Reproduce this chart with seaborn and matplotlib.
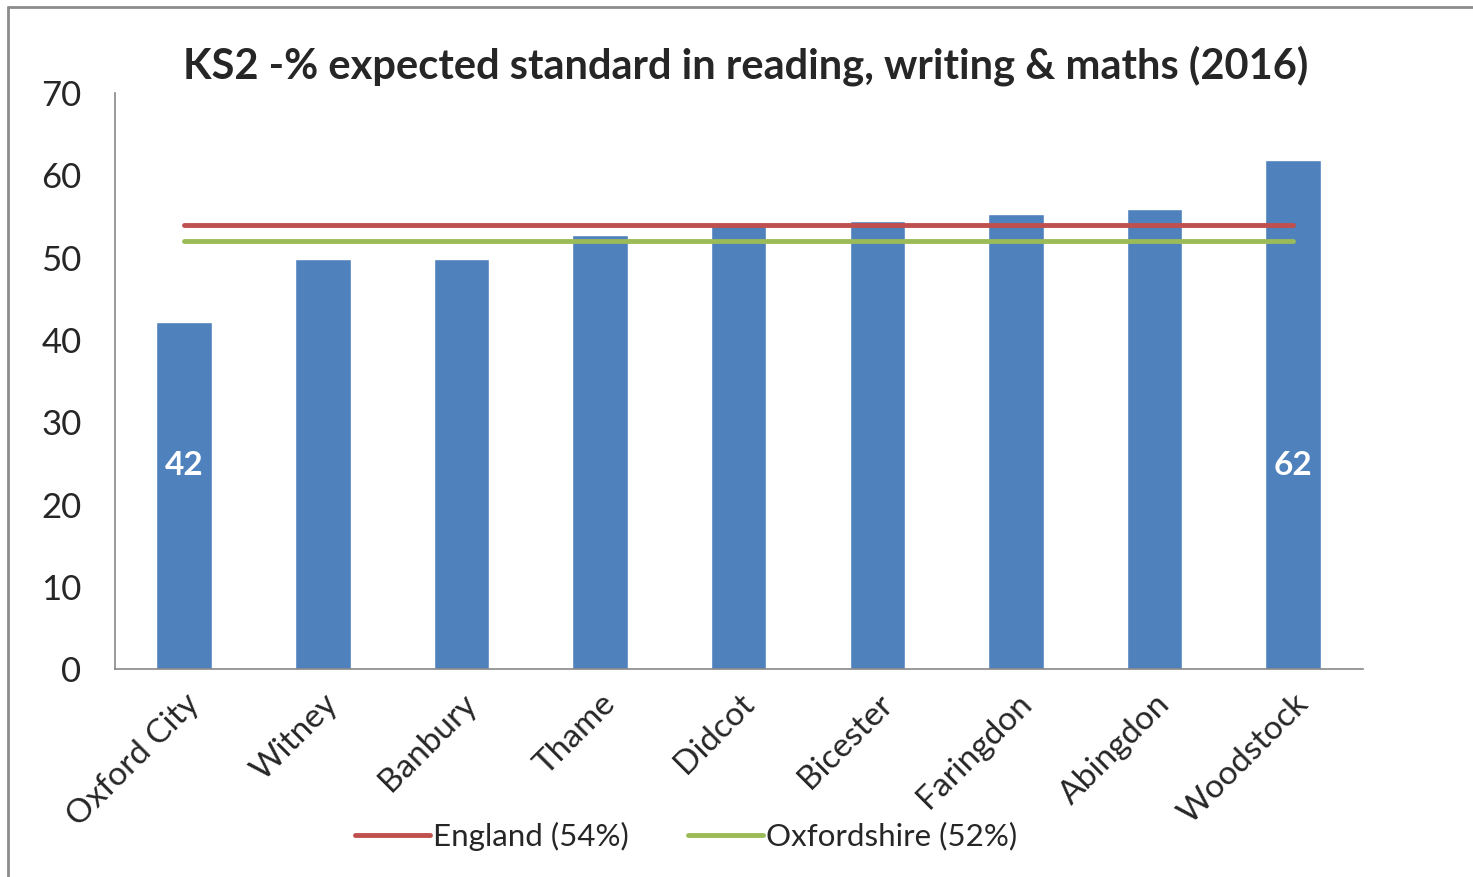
import numpy as np
import pandas as pd
import seaborn as sns
import matplotlib.pyplot as plt
from matplotlib.lines import Line2D

# data
towns = ["Oxford City", "Witney", "Banbury", "Thame", "Didcot",
         "Bicester", "Faringdon", "Abingdon", "Woodstock"]
pct_expected = [42.2, 49.8, 49.8, 52.8, 53.9, 54.4, 55.3, 55.9, 61.9]
england_pct = 54
oxon_pct = 52
bar_labels = {"Oxford City": "42", "Woodstock": "62"}

df = pd.DataFrame({"town": towns, "pct": pct_expected})

sns.set_style("white")
plt.rcParams["font.family"] = ["Lato", "DejaVu Sans"]

fig = plt.figure(figsize=(14.73, 8.77), dpi=100)
ax = fig.add_axes([0.078, 0.237, 0.847, 0.657])

sns.barplot(data=df, x="town", y="pct", color="#4F81BD", saturation=1,
            width=0.4, ax=ax)

n = len(towns)
ax.plot([0, n - 1], [england_pct, england_pct], color="#C0504D", lw=3.5,
        label="England (54%)")
ax.plot([0, n - 1], [oxon_pct, oxon_pct], color="#9BBB59", lw=3.5,
        label="Oxfordshire (52%)")

# white value labels inside first and last bar
for i, t in enumerate(towns):
    if t in bar_labels:
        ax.text(i, 24.8, bar_labels[t], color="white", fontsize=24,
                fontweight="bold", ha="center", va="center")

ax.set_xlim(-0.5, n - 0.5)
ax.set_ylim(0, 70)
ax.set_yticks(range(0, 71, 10))
ax.set_xlabel("")
ax.set_ylabel("")

# category ticks sit between the bars
ax.set_xticks(np.arange(-0.5, n, 1), minor=True)
ax.tick_params(axis="x", which="major", length=0, pad=14)
ax.tick_params(axis="x", which="minor", length=10, width=1.2, color="#878787",
               direction="out")
ax.tick_params(axis="y", length=10, width=1.2, color="#878787",
               direction="out", labelsize=25, pad=14)
ax.set_xticks(range(n))
ax.set_xticklabels(towns, rotation=45, ha="right", rotation_mode="anchor",
                   fontsize=24)

for s in ["top", "right"]:
    ax.spines[s].set_visible(False)
for s in ["left", "bottom"]:
    ax.spines[s].set_color("#878787")
    ax.spines[s].set_linewidth(1.2)

fig.text(0.506, 0.925, "KS2 -% expected standard in reading, writing & maths (2016)",
         ha="center", va="center", fontsize=30, fontweight="bold")

ax.legend(loc="center", bbox_to_anchor=(0.458, -0.29), ncol=2, frameon=False,
          fontsize=22.5, handlelength=2.4, handletextpad=0.1, columnspacing=1.9)

# thin grey frame on top and left of the picture
fig.add_artist(Line2D([0.0054, 1], [0.992, 0.992], color="#8c8c8c", lw=2))
fig.add_artist(Line2D([0.0054, 0.0054], [0, 0.992], color="#8c8c8c", lw=2))

fig.savefig("out.png", dpi=100)
